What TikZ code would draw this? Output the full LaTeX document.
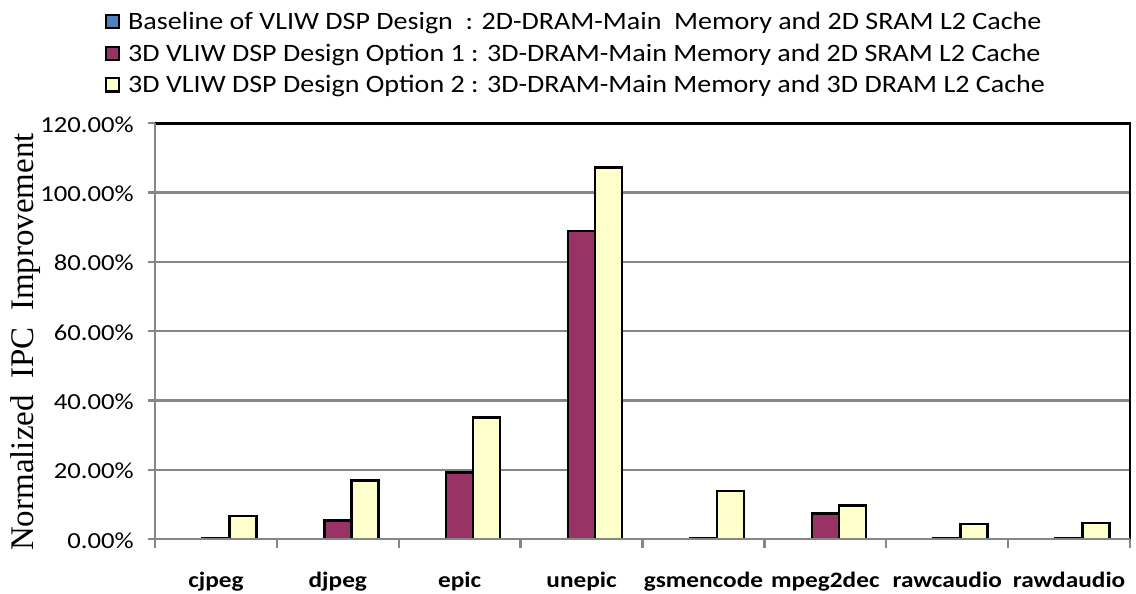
\documentclass[tikz,border=0pt]{standalone}
\usepackage{fontspec}
\setmainfont{Carlito}
\newfontfamily\timesf{Liberation Serif}
\definecolor{barpurple}{HTML}{993366}
\definecolor{baryellow}{HTML}{FFFFCC}
\definecolor{barblue}{HTML}{4F81BD}
\definecolor{gridgray}{HTML}{868686}
\newcommand{\legstr}[1]{\scalebox{1.122}[1]{#1}}
\newcommand{\tickstr}[1]{\scalebox{1.16}[1]{#1}}
\newcommand{\catstr}[1]{\scalebox{1.15}[1]{#1}}
\tikzset{
  gridline/.style={draw=gridgray, line width=2.3pt},
  axisline/.style={draw=gridgray, line width=2.3pt},
  frameline/.style={draw=black, line width=2.6pt},
  barbox/.style={draw=black, line width=2.6pt, line join=miter},
  ticklabel/.style={font=\fontsize{23}{28}\selectfont, anchor=east, inner sep=0pt},
  catlabel/.style={font=\fontsize{22}{26}\selectfont\bfseries, anchor=base, inner sep=0pt},
  legtext/.style={font=\fontsize{25}{30}\selectfont, anchor=base west, inner sep=0pt},
  legbox/.style={draw=black, line width=2.2pt, minimum width=13.5pt, minimum height=13.5pt, inner sep=0pt},
}
\begin{document}
\begin{tikzpicture}[x=1pt,y=-1pt]
\useasboundingbox (0,0) rectangle (1136,594);
\def\xl{155}\def\xr{1130}\def\yz{539.3}\def\ys{3.4667}\def\cw{121.875}
% gridlines
\foreach \v in {20,40,...,100}{
  \draw[gridline] (\xl,{\yz-\v*\ys}) -- (\xr,{\yz-\v*\ys});
}
% left ticks and labels
\foreach \v/\t in {0/0.00\%,20/20.00\%,40/40.00\%,60/60.00\%,80/80.00\%,100/100.00\%,120/120.00\%}{
  \draw[axisline] (148,{\yz-\v*\ys}) -- (\xl,{\yz-\v*\ys});
  \node[ticklabel] (yl\v) at (134,{\yz-\v*\ys+1}) {\tickstr{\t}};
}
% bars
\foreach \i/\p/\y/\n in {0/0.3/6.7/cjpeg,1/5.5/17.0/djpeg,2/19.3/35.1/epic,3/88.9/107.3/unepic,4/0.3/13.9/gsmencode,5/7.5/9.8/mpeg2dec,6/0.3/4.4/rawcaudio,7/0.3/4.7/rawdaudio}{
  \pgfmathsetmacro{\c}{\xl+\cw*(\i+0.5)}
  \fill[barpurple] ({\c-13.5},\yz) rectangle ({\c+13.5},{\yz-\p*\ys});
  \draw[barbox] ({\c-13.5},\yz) -- ({\c-13.5},{\yz-\p*\ys}) -- ({\c+13.5},{\yz-\p*\ys}) -- ({\c+13.5},\yz);
  \fill[baryellow] ({\c+13.5},\yz) rectangle ({\c+40.5},{\yz-\y*\ys});
  \draw[barbox] ({\c+13.5},\yz) -- ({\c+13.5},{\yz-\y*\ys}) -- ({\c+40.5},{\yz-\y*\ys}) -- ({\c+40.5},\yz);
  \node[catlabel] (cat\i) at (\c,587.5) {\catstr{\n}};
}
% axes and frame
\draw[frameline] (\xl,{\yz-120*\ys}) -- (\xr,{\yz-120*\ys}) -- (\xr,\yz);
\draw[axisline] (\xl,{\yz-120*\ys}) -- (\xl,\yz) -- (\xr,\yz);
\foreach \k in {0,...,8}{
  \draw[axisline] ({\xl+\cw*\k},\yz) -- ({\xl+\cw*\k},548);
}
% axis title
\node[font=\timesf\fontsize{33}{38}\selectfont, rotate=90, anchor=base, inner sep=0pt] (ytitle) at (33,342) {Normalized~~IPC~~Improvement};
% legend
\node[legbox, fill=barblue] (lb1) at (112.5,21.5) {};
\node[legtext] (lt1) at (128,29.3) {\legstr{Baseline of VLIW DSP Design~~: 2D-DRAM-Main~~Memory and 2D SRAM L2 Cache}};
\node[legbox, fill=barpurple] (lb2) at (112.5,53.5) {};
\node[legtext] (lt2) at (128,61.5) {\legstr{3D VLIW DSP Design Option 1 : 3D-DRAM-Main Memory and 2D SRAM L2 Cache}};
\node[legbox, fill=baryellow] (lb3) at (112.5,84.7) {};
\node[legtext] (lt3) at (128,92.7) {\legstr{3D VLIW DSP Design Option 2 : 3D-DRAM-Main Memory and 3D DRAM L2 Cache}};
\end{tikzpicture}
\end{document}
